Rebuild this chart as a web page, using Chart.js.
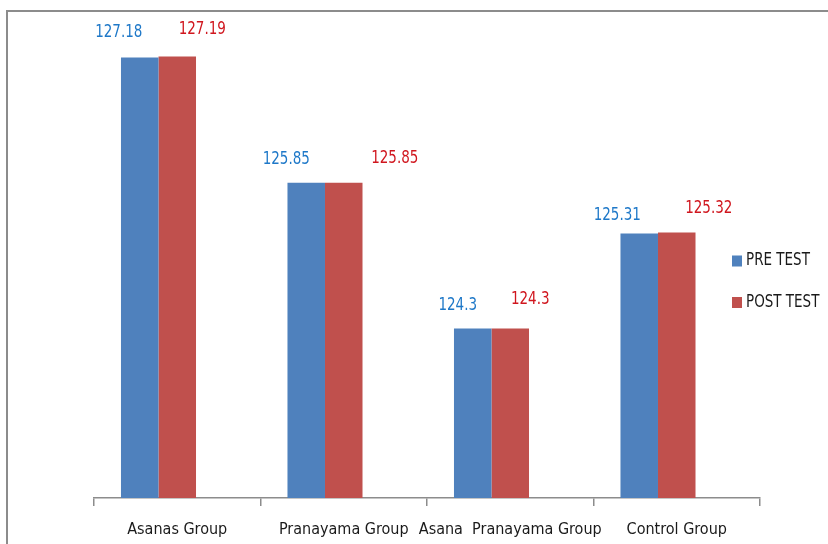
<!DOCTYPE html>
<html>
<head>
<meta charset="utf-8">
<script src="https://cdn.jsdelivr.net/npm/chart.js@4/dist/chart.umd.min.js"></script>
<style>
  html, body { margin: 0; padding: 0; background: #fff; overflow: hidden; }
  #wrap { position: relative; width: 828px; height: 544px; }
  #frame { position: absolute; left: 6px; top: 10px; width: 900px; height: 700px;
           border: 2px solid #8c8c8c; box-sizing: border-box; }
  canvas { position: absolute; left: 0; top: 0; }
</style>
</head>
<body>
<div id="wrap">
  <div id="frame"></div>
  <canvas id="c" width="828" height="544"></canvas>
</div>
<script>
// Group names along the x axis
const categories = ['Asanas Group', 'Pranayama Group', 'Asana  Pranayama Group', 'Control Group'];
// Mean scores per group
const preTest = [127.18, 125.85, 124.3, 125.31];
const postTest = [127.19, 125.85, 124.3, 125.32];
const seriesNames = ['PRE TEST', 'POST TEST'];

const FONT = "'DejaVu Sans Condensed', 'Liberation Sans', sans-serif";

// Draws text slightly stretched vertically for a tall, narrow look
function tallText(ctx, text, x, y, sy) {
  ctx.save();
  ctx.translate(x, y);
  ctx.scale(1, sy);
  ctx.fillText(text, 0, 0);
  ctx.restore();
}

// Value labels placed beside each bar top (offsets in px from the bar's top centre)
const valueLabels = {
  id: 'valueLabels',
  afterDatasetsDraw(chart, args, opts) {
    const ctx = chart.ctx;
    ctx.save();
    ctx.font = opts.font;
    ctx.textAlign = 'center';
    ctx.textBaseline = 'middle';
    [0, 1].forEach(di => {
      const meta = chart.getDatasetMeta(di);
      const ds = chart.data.datasets[di];
      ctx.fillStyle = opts.colors[di];
      meta.data.forEach((bar, i) => {
        const off = opts.offsets[di][i];
        tallText(ctx, String(ds.data[i]), bar.x + off[0], bar.y + off[1], 1.2);
      });
    });
    ctx.restore();
  }
};

// Legend drawn at the right side of the plot
const sideLegend = {
  id: 'sideLegend',
  afterDraw(chart, args, opts) {
    const ctx = chart.ctx;
    ctx.save();
    ctx.font = opts.font;
    ctx.textBaseline = 'middle';
    ctx.textAlign = 'left';
    [0, 1].forEach(di => {
      const ds = chart.data.datasets[di];
      const y = opts.y + di * opts.gap;
      ctx.fillStyle = ds.backgroundColor;
      ctx.fillRect(opts.x, y - 5.5, 10, 11);
      ctx.fillStyle = '#1a1a1a';
      tallText(ctx, ds.label, opts.x + 14, y, 1.15);
    });
    ctx.restore();
  }
};

new Chart(document.getElementById('c'), {
  type: 'bar',
  data: {
    labels: categories,
    datasets: [
      { label: seriesNames[0], data: preTest, backgroundColor: '#4F81BD' },
      { label: seriesNames[1], data: postTest, backgroundColor: '#C0504D' },
      // empty third slot keeps the pairs left of each category centre
      { label: '', data: [null, null, null, null], backgroundColor: 'rgba(0,0,0,0)' }
    ]
  },
  options: {
    responsive: false,
    animation: false,
    events: [],
    layout: { padding: { left: 94, right: 68, top: 18, bottom: 0 } },
    datasets: { bar: { barPercentage: 1, categoryPercentage: 0.676 } },
    scales: {
      y: { display: false, min: 122.5, max: 127.6 },
      x: {
        afterFit(scale) { scale.height = 46; },
        grid: { display: true, drawOnChartArea: false, drawTicks: true, tickLength: 8,
                color: '#8c8c8c', lineWidth: 1.5, offset: true },
        border: { display: true, color: '#8c8c8c', width: 1.5 },
        ticks: { color: '#1a1a1a', padding: 14, maxRotation: 0, autoSkip: false,
                 font: { family: FONT, size: 16 } }
      }
    },
    plugins: {
      legend: { display: false },
      tooltip: { enabled: false },
      valueLabels: {
        font: "15px " + FONT,
        colors: ['#1E78C8', '#D0161E'],
        offsets: [
          [[-21, -25], [-20, -23], [-15, -23], [-22, -18]],
          [[25, -27], [51, -24], [20, -29], [32, -24]]
        ]
      },
      sideLegend: { font: "15px " + FONT, x: 732, y: 261, gap: 41.5 }
    }
  },
  plugins: [valueLabels, sideLegend]
});
</script>
</body>
</html>
